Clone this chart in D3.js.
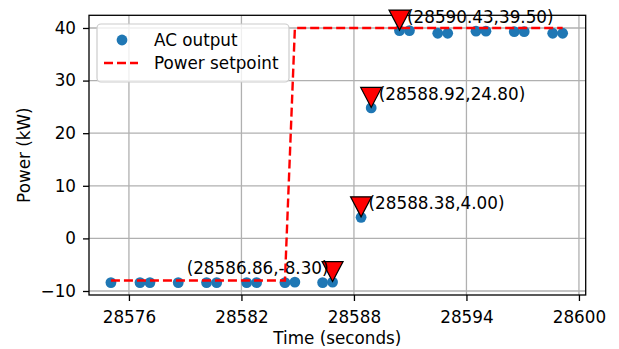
<!DOCTYPE html>
<html>
<head>
<meta charset="utf-8">
<script src="https://cdn.jsdelivr.net/npm/d3@7"></script>
<style>
  body { margin: 0; background: #fff; }
  svg { display: block; font-family: "DejaVu Sans", sans-serif; }
</style>
</head>
<body>
<svg class="chart" width="619" height="349"></svg>
<script>
// measured AC output samples
const times = [28575.04, 28576.59, 28577.12, 28578.63, 28580.14, 28580.68,
  28582.28, 28582.81, 28584.32, 28584.85, 28586.33, 28586.86,
  28588.38, 28588.92, 28590.43, 28590.96, 28592.47, 28593.00,
  28594.51, 28595.04, 28596.55, 28597.08, 28598.60, 28599.13];
const acOutput = [-8.4, -8.4, -8.4, -8.4, -8.4, -8.4,
  -8.4, -8.4, -8.4, -8.3, -8.4, -8.3,
  4.0, 24.8, 39.5, 39.5, 39.0, 39.0,
  39.4, 39.4, 39.3, 39.3, 39.0, 39.0];
const setpoint = [-8, -8, -8, -8, -8, -8, -8, -8, -8, 40, 40, 40,
  40, 40, 40, 40, 40, 40, 40, 40, 40, 40, 40, 40];

// annotated points
const markedTimes = [28586.86, 28588.38, 28588.92, 28590.43];
const markedValues = [-8.30, 4.00, 24.80, 39.50];

const xTicks = [28576, 28582, 28588, 28594, 28600];
const yTicks = [-10, 0, 10, 20, 30, 40];
const xLimits = [28573.87, 28600.36];
const yLimits = [-10.76, 42.41];

const plotLeft = 89, plotRight = 585.7, plotTop = 15.3, plotBottom = 295;
const fontSize = 16.8;

const x = d3.scaleLinear().domain(xLimits).range([plotLeft, plotRight]);
const y = d3.scaleLinear().domain(yLimits).range([plotBottom, plotTop]);

const svg = d3.select(".chart");

// grid
svg.append("g")
  .selectAll("line")
  .data(xTicks)
  .enter().append("line")
    .attr("x1", d => x(d)).attr("x2", d => x(d))
    .attr("y1", plotTop).attr("y2", plotBottom)
    .attr("stroke", "#b0b0b0").attr("stroke-width", 1.3);
svg.append("g")
  .selectAll("line")
  .data(yTicks)
  .enter().append("line")
    .attr("x1", plotLeft).attr("x2", plotRight)
    .attr("y1", d => y(d)).attr("y2", d => y(d))
    .attr("stroke", "#b0b0b0").attr("stroke-width", 1.3);

// axes
const xAxis = svg.append("g")
  .attr("transform", "translate(0," + plotBottom + ")")
  .call(d3.axisBottom(x).tickValues(xTicks).tickFormat(d3.format("d"))
    .tickSizeInner(6).tickSizeOuter(0).tickPadding(6));
const yAxis = svg.append("g")
  .attr("transform", "translate(" + plotLeft + ",0)")
  .call(d3.axisLeft(y).tickValues(yTicks).tickSizeInner(6).tickSizeOuter(0).tickPadding(7));

[xAxis, yAxis].forEach(function(a) {
  a.select(".domain").remove();
  a.selectAll(".tick line").attr("stroke", "#000").attr("stroke-width", 1.3);
  a.selectAll(".tick text")
    .attr("fill", "#000")
    .style("font-size", fontSize + "px")
    .style("font-family", "DejaVu Sans");
});
xAxis.selectAll(".tick text").attr("dy", "0.95em");

// frame
svg.append("rect")
  .attr("x", plotLeft).attr("y", plotTop)
  .attr("width", plotRight - plotLeft).attr("height", plotBottom - plotTop)
  .attr("fill", "none").attr("stroke", "#000").attr("stroke-width", 1.3);

// AC output scatter
svg.append("g")
  .selectAll("circle")
  .data(times)
  .enter().append("circle")
    .attr("cx", d => x(d))
    .attr("cy", (d, i) => y(acOutput[i]))
    .attr("r", 5.4)
    .attr("fill", "#1f77b4");

// power setpoint
const line = d3.line()
  .x(d => x(d))
  .y((d, i) => y(setpoint[i]));
svg.append("path")
  .datum(times)
  .attr("d", line)
  .attr("fill", "none")
  .attr("stroke", "#ff0000")
  .attr("stroke-width", 2.4)
  .attr("stroke-dasharray", "9,4");

// markers + labels
const tri = "M-10.5,-10L10.5,-10L0,10Z";
const marks = svg.append("g")
  .selectAll("g")
  .data(markedTimes)
  .enter().append("g");

marks.append("path")
  .attr("d", tri)
  .attr("transform", (d, i) => "translate(" + x(d) + "," + y(markedValues[i] + 2) + ")")
  .attr("fill", "#ff0000")
  .attr("stroke", "#000")
  .attr("stroke-width", 1.2)
  .attr("stroke-linejoin", "miter");

marks.append("text")
  .attr("x", (d, i) => markedValues[i] < 0 ? x(d) - 4 : x(d) + 7.5)
  .attr("y", (d, i) => y(markedValues[i]) - 8)
  .attr("text-anchor", (d, i) => markedValues[i] < 0 ? "end" : "start")
  .style("font-size", fontSize + "px")
  .text((d, i) => "(" + d.toFixed(2) + "," + markedValues[i].toFixed(2) + ")");

// axis labels
svg.append("text")
  .attr("x", (plotLeft + plotRight) / 2)
  .attr("y", 344.3)
  .attr("text-anchor", "middle")
  .style("font-size", fontSize + "px")
  .text("Time (seconds)");
svg.append("text")
  .attr("transform", "translate(29.5," + ((plotTop + plotBottom) / 2) + ") rotate(-90)")
  .attr("text-anchor", "middle")
  .style("font-size", fontSize + "px")
  .text("Power (kW)");

// legend
const legend = svg.append("g");
legend.append("rect")
  .attr("x", 97).attr("y", 24)
  .attr("width", 192).attr("height", 58)
  .attr("rx", 4)
  .attr("fill", "#fff").attr("fill-opacity", 0.8)
  .attr("stroke", "#cccccc").attr("stroke-width", 1.2);
legend.append("circle")
  .attr("cx", 122).attr("cy", 40).attr("r", 5.4)
  .attr("fill", "#1f77b4");
legend.append("text")
  .attr("x", 154).attr("y", 45.5)
  .style("font-size", fontSize + "px")
  .text("AC output");
legend.append("line")
  .attr("x1", 104).attr("x2", 138)
  .attr("y1", 63).attr("y2", 63)
  .attr("stroke", "#ff0000").attr("stroke-width", 2.4)
  .attr("stroke-dasharray", "9,4");
legend.append("text")
  .attr("x", 154).attr("y", 69)
  .style("font-size", fontSize + "px")
  .text("Power setpoint");
</script>
</body>
</html>
